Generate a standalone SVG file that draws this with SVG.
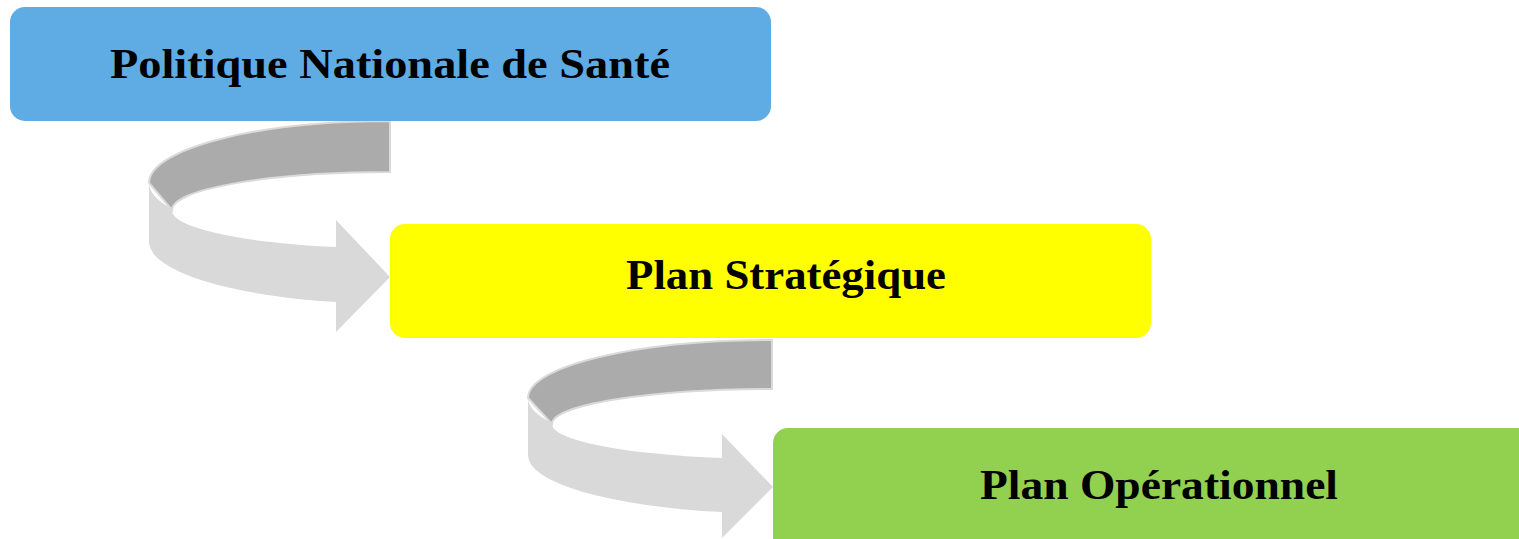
<svg xmlns="http://www.w3.org/2000/svg" width="1519" height="539" viewBox="0 0 1519 539">
<style>
.lbl{font-family:"Liberation Serif","Times New Roman",serif;font-weight:bold;font-size:43px;fill:#000;text-anchor:middle}
.dark{fill:#ABABAB;stroke:#DADADA;stroke-width:2}
.light{fill:#D9D9D9;stroke:none}
</style>
<rect width="1519" height="539" fill="#FFFFFF"/>
<g id="connectors">
  <g id="arrow1">
    <path class="dark" d="M390,121 A241,62 0 0 0 149,183 L172,210 A218,38 0 0 1 390,172 Z"/>
    <path class="light" d="M149,183 A241,62 0 0 0 172,209 A218,38 0 0 0 336,247 L336,220 L390,277 L336,332 L336,302 A241,62 0 0 1 149,243 Z"/>
  </g>
  <g id="arrow2">
    <path class="dark" d="M772,340 A244,58 0 0 0 528,398 L552,424 A220,35 0 0 1 772,389 Z"/>
    <path class="light" d="M528,398 A244,58 0 0 0 552,423 A220,35 0 0 0 722,458 L722,434 L773,487 L722,538 L722,512 A244,58 0 0 1 528,455 Z"/>
  </g>
</g>
<g id="node-politique">
  <rect x="10" y="7" width="761" height="114" rx="15" ry="15" fill="#5FACE4"/>
  <text class="lbl" x="390" y="78" textLength="560" lengthAdjust="spacingAndGlyphs">Politique Nationale de Santé</text>
</g>
<g id="node-strategique">
  <rect x="390" y="224" width="761" height="114" rx="15" ry="15" fill="#FFFF00"/>
  <text class="lbl" x="786" y="289" textLength="320" lengthAdjust="spacingAndGlyphs">Plan Stratégique</text>
</g>
<g id="node-operationnel">
  <rect x="773" y="428" width="780" height="140" rx="15" ry="15" fill="#92D050"/>
  <text class="lbl" x="1159" y="499" textLength="358" lengthAdjust="spacingAndGlyphs">Plan Opérationnel</text>
</g>
</svg>
